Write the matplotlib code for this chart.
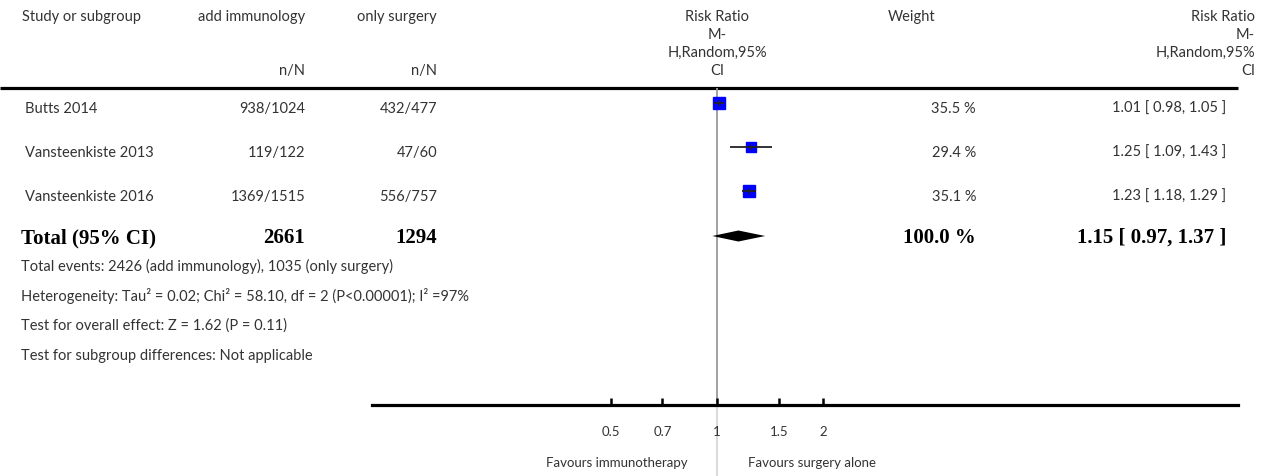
import numpy as np
import matplotlib
matplotlib.use('Agg')
import matplotlib.pyplot as plt
from matplotlib.ticker import NullLocator

# data
studies = ['Butts 2014', 'Vansteenkiste 2013', 'Vansteenkiste 2016']
imm_n = [938, 119, 1369]
imm_N = [1024, 122, 1515]
surg_n = [432, 47, 556]
surg_N = [477, 60, 757]
weights = [35.5, 29.4, 35.1]
rr = [1.01, 1.25, 1.23]
rr_lo = [0.98, 1.09, 1.18]
rr_hi = [1.05, 1.43, 1.29]
total_imm = 2661
total_surg = 1294
total_rr, total_lo, total_hi = 1.15, 0.97, 1.37
xticks = [0.5, 0.7, 1, 1.5, 2]
xtick_labels = ['0.5', '0.7', '1', '1.5', '2']
footer = ['Total events: 2426 (add immunology), 1035 (only surgery)',
          'Heterogeneity: Tau\u00b2 = 0.02; Chi\u00b2 = 58.10, df = 2 (P<0.00001); I\u00b2 =97%',
          'Test for overall effect: Z = 1.62 (P = 0.11)',
          'Test for subgroup differences: Not applicable']

plt.rcParams['font.family'] = ['Lato', 'DejaVu Sans']
TXT = '#333333'
SANS = dict(fontsize=10.5, color=TXT)
BOLD = dict(fontsize=15, color='black', fontweight='bold', family='Liberation Serif')

W, H = 1268, 476
fig = plt.figure(figsize=(W / 100, H / 100), dpi=100)

# text layer in pixel coordinates
ax = fig.add_axes([0, 0, 1, 1])
ax.set_xlim(0, W)
ax.set_ylim(H, 0)
ax.axis('off')

# forest layer: log risk ratio on x, same pixel rows on y
fax = fig.add_axes([0, 0, 1, 1], facecolor='none')
fax.set_xscale('log')
ppl = 153.0   # pixels per ln unit
x_one = 717   # pixel where RR = 1
fax.set_xlim(np.exp(-x_one / ppl), np.exp((W - x_one) / ppl))
fax.set_ylim(H, 0)

row_y = [103, 147, 191]
total_y = 236
txt_off = 6

# header
ax.text(22, 17, 'Study or subgroup', ha='left', va='center', **SANS)
ax.text(305, 17, 'add immunology', ha='right', va='center', **SANS)
ax.text(437, 17, 'only surgery', ha='right', va='center', **SANS)
ax.text(305, 71, 'n/N', ha='right', va='center', **SANS)
ax.text(437, 71, 'n/N', ha='right', va='center', **SANS)
for yy, s in zip([17, 35, 53, 71], ['Risk Ratio', 'M-', 'H,Random,95%', 'CI']):
    ax.text(717, yy, s, ha='center', va='center', **SANS)
    ax.text(1255, yy, s, ha='right', va='center', **SANS)
ax.text(912, 17, 'Weight', ha='center', va='center', **SANS)
ax.hlines(88, 0, 1238, color='black', lw=2.3)

# study rows
for i, name in enumerate(studies):
    ty = row_y[i] + txt_off
    ax.text(25, ty, name, ha='left', va='center', **SANS)
    ax.text(305, ty, f'{imm_n[i]}/{imm_N[i]}', ha='right', va='center', **SANS)
    ax.text(437, ty, f'{surg_n[i]}/{surg_N[i]}', ha='right', va='center', **SANS)
    ax.text(976, ty, f'{weights[i]:.1f} %', ha='right', va='center', **SANS)
    ax.text(1226, ty, f'{rr[i]:.2f} [ {rr_lo[i]:.2f}, {rr_hi[i]:.2f} ]',
            ha='right', va='center', **SANS)

# total row
ty = total_y + 2
ax.text(21, ty, 'Total (95% CI)', ha='left', va='center', **BOLD)
ax.text(305, ty, str(total_imm), ha='right', va='center', **BOLD)
ax.text(437, ty, str(total_surg), ha='right', va='center', **BOLD)
ax.text(976, ty, f'{sum(weights):.1f} %', ha='right', va='center', **BOLD)
ax.text(1226, ty, f'{total_rr:.2f} [ {total_lo:.2f}, {total_hi:.2f} ]',
        ha='right', va='center', **BOLD)

for yy, s in zip([266, 296, 326, 356], footer):
    ax.text(21, yy, s, ha='left', va='center', **SANS)

# reference line at RR = 1
fax.vlines(1, 88, 405, color='#9a9a9a', lw=1.3, zorder=1)
fax.vlines(1, 405, H, color='#d8d8d8', lw=1.3, zorder=1)

# study squares and CIs
for i in range(len(studies)):
    fax.plot(rr[i], row_y[i], marker='s', ms=weights[i] * 0.258,
             color='#0000ff', mec='#0000ff', zorder=3)
    fax.hlines(row_y[i], rr_lo[i], rr_hi[i], color='#222222', lw=1.3, zorder=4)
    fax.vlines(rr[i], row_y[i] - 3, row_y[i] + 3, color='#222222', lw=1.0, zorder=4)

# pooled diamond
fax.fill([total_lo, total_rr, total_hi, total_rr],
         [total_y, total_y - 5.5, total_y, total_y + 5.5],
         color='black', lw=0, zorder=3)

# bottom axis
for side in ['top', 'left', 'right']:
    fax.spines[side].set_visible(False)
fax.spines['bottom'].set_position(('data', 405))
fax.spines['bottom'].set_linewidth(2.3)
fax.spines['bottom'].set_bounds(np.exp((372 - x_one) / ppl), np.exp((1238 - x_one) / ppl))
fax.set_xticks(xticks)
fax.set_xticklabels(xtick_labels)
fax.xaxis.set_minor_locator(NullLocator())
fax.set_yticks([])
fax.tick_params(axis='x', direction='in', length=5, width=1.8, pad=15,
                labelsize=9.5, labelcolor=TXT)

ax.text(688, 463, 'Favours immunotherapy', ha='right', va='center', fontsize=9.5,
        color=TXT)
ax.text(748, 463, 'Favours surgery alone', ha='left', va='center', fontsize=9.5,
        color=TXT)

fig.savefig('out.png', dpi=100)
